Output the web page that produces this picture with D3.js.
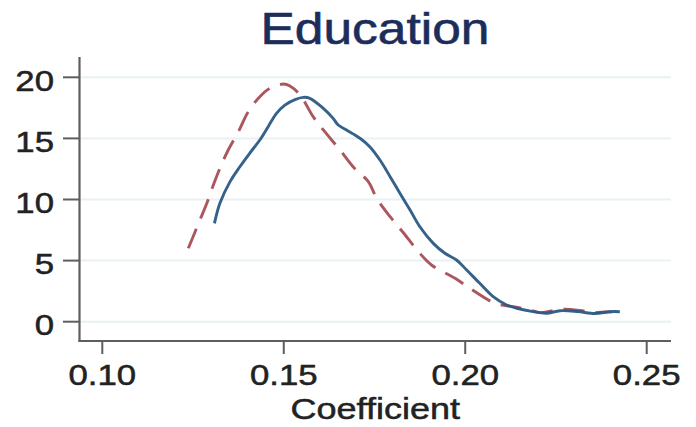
<!DOCTYPE html>
<html>
<head>
<meta charset="utf-8">
<script src="https://cdn.jsdelivr.net/npm/d3@7/dist/d3.min.js"></script>
<style>
  html, body { margin: 0; padding: 0; background: #ffffff; }
  svg { display: block; }
  text { font-family: "Liberation Sans", Arial, Helvetica, sans-serif; }
</style>
</head>
<body>
<svg id="chart" width="696" height="427"></svg>
<script>
// Kernel density estimates of the education coefficient
const chartTitle = "Education";
const xLabel = "Coefficient";
const xTicks = [0.10, 0.15, 0.20, 0.25];
const yTicks = [0, 5, 10, 15, 20];

// Solid series
const solidX = [0.1309, 0.1324, 0.1352, 0.1379, 0.1406, 0.1434, 0.1457, 0.1480, 0.1503, 0.1531,
  0.1554, 0.1572, 0.1609, 0.1636, 0.1650, 0.1673, 0.1710, 0.1737, 0.1765, 0.1793,
  0.1820, 0.1848, 0.1875, 0.1912, 0.1944, 0.1976, 0.2004, 0.2040, 0.2077, 0.2114,
  0.2142, 0.2187, 0.2224, 0.2261, 0.2310, 0.2357, 0.2399, 0.2426];
const solidY = [8.05, 9.69, 11.46, 12.68, 13.78, 14.87, 15.96, 17.05, 17.73, 18.18,
  18.36, 18.28, 17.46, 16.64, 16.10, 15.69, 15.01, 14.32, 13.23, 11.87,
  10.51, 9.14, 7.77, 6.41, 5.60, 5.05, 4.23, 3.14, 2.05, 1.37,
  1.10, 0.82, 0.69, 0.90, 0.83, 0.67, 0.82, 0.82];

// Dashed series
const dashedX = [0.1237, 0.1269, 0.1288, 0.1306, 0.1324, 0.1347, 0.1375, 0.1402, 0.1434, 0.1462,
  0.1499, 0.1517, 0.1545, 0.1581, 0.1609, 0.1655, 0.1691, 0.1733, 0.1756, 0.1793,
  0.1829, 0.1871, 0.1907, 0.1972, 0.2013, 0.2082, 0.2132, 0.2178, 0.2206, 0.2238,
  0.2270, 0.2316, 0.2353, 0.2385, 0.2404];
const dashedY = [6.01, 8.32, 9.69, 11.19, 12.55, 14.05, 15.55, 17.18, 18.41, 19.10,
  19.45, 19.29, 18.55, 16.78, 15.69, 14.05, 12.68, 11.46, 10.10, 8.59,
  7.30, 5.73, 4.64, 3.55, 2.73, 1.51, 1.23, 0.96, 0.74, 0.88,
  1.02, 0.92, 0.74, 0.79, 0.82];

const svg = d3.select("#chart");

const plotLeft = 79.5, plotRight = 671, plotTop = 57, plotBottom = 341;
const x = d3.scaleLinear().domain([0.10, 0.25]).range([102.3, 646.7]);
const y = d3.scaleLinear().domain([0, 20]).range([321.7, 77.3]);

const axisColor = "#5e5e5e";
const textColor = "#222222";
const stretch = 1.2;

// Horizontal grid lines
svg.append("g")
  .selectAll("line")
  .data(yTicks)
  .join("line")
  .attr("x1", plotLeft + 1).attr("x2", plotRight)
  .attr("y1", d => y(d)).attr("y2", d => y(d))
  .attr("stroke", "#e9f1f3")
  .attr("stroke-width", 2);

// Density curves
const line = d3.line()
  .x(d => x(d[0]))
  .y(d => y(d[1]))
  .curve(d3.curveCatmullRom.alpha(0.5));

svg.append("path")
  .datum(dashedX.map((v, i) => [v, dashedY[i]]))
  .attr("d", line)
  .attr("fill", "none")
  .attr("stroke", "#a2454b")
  .attr("stroke-width", 2.9)
  .attr("stroke-dasharray", "21,11")
  .attr("stroke-linecap", "butt")
  .attr("opacity", 0.9);

svg.append("path")
  .datum(solidX.map((v, i) => [v, solidY[i]]))
  .attr("d", line)
  .attr("fill", "none")
  .attr("stroke", "#2a5a85")
  .attr("stroke-width", 2.9)
  .attr("stroke-linejoin", "round")
  .attr("opacity", 0.95);

// Y axis
const yAxis = svg.append("g");
yAxis.append("line")
  .attr("x1", plotLeft).attr("x2", plotLeft)
  .attr("y1", plotTop).attr("y2", plotBottom + 1)
  .attr("stroke", axisColor).attr("stroke-width", 2.2);
yAxis.selectAll("line.tick")
  .data(yTicks)
  .join("line")
  .attr("class", "tick")
  .attr("x1", 63).attr("x2", plotLeft)
  .attr("y1", d => y(d)).attr("y2", d => y(d))
  .attr("stroke", axisColor).attr("stroke-width", 2);
yAxis.selectAll("text")
  .data(yTicks)
  .join("text")
  .attr("transform", d => `translate(54,${y(d) + 13.2}) scale(${stretch},1)`)
  .attr("text-anchor", "end")
  .attr("font-size", 29)
  .attr("fill", textColor)
  .attr("stroke", textColor)
  .attr("stroke-width", 0.5)
  .text(d => d3.format("d")(d));

// X axis
const xAxis = svg.append("g");
xAxis.append("line")
  .attr("x1", plotLeft - 1).attr("x2", plotRight)
  .attr("y1", plotBottom).attr("y2", plotBottom)
  .attr("stroke", axisColor).attr("stroke-width", 2.2);
xAxis.selectAll("line.tick")
  .data(xTicks)
  .join("line")
  .attr("class", "tick")
  .attr("x1", d => x(d)).attr("x2", d => x(d))
  .attr("y1", plotBottom).attr("y2", 354)
  .attr("stroke", axisColor).attr("stroke-width", 2);
xAxis.selectAll("text")
  .data(xTicks)
  .join("text")
  .attr("transform", d => `translate(${x(d)},384.5) scale(${stretch},1)`)
  .attr("text-anchor", "middle")
  .attr("font-size", 29)
  .attr("fill", textColor)
  .attr("stroke", textColor)
  .attr("stroke-width", 0.5)
  .text(d => d3.format(".2f")(d));

// Axis title
svg.append("text")
  .attr("transform", `translate(${(plotLeft + plotRight) / 2},418.5) scale(${stretch},1)`)
  .attr("text-anchor", "middle")
  .attr("font-size", 30)
  .attr("fill", textColor)
  .attr("stroke", textColor)
  .attr("stroke-width", 0.5)
  .text(xLabel);

// Chart title
svg.append("text")
  .attr("transform", `translate(375,43.5) scale(1.17,1)`)
  .attr("text-anchor", "middle")
  .attr("font-size", 44)
  .attr("fill", "#1c2d5c")
  .attr("stroke", "#1c2d5c")
  .attr("stroke-width", 0.6)
  .text(chartTitle);
</script>
</body>
</html>
